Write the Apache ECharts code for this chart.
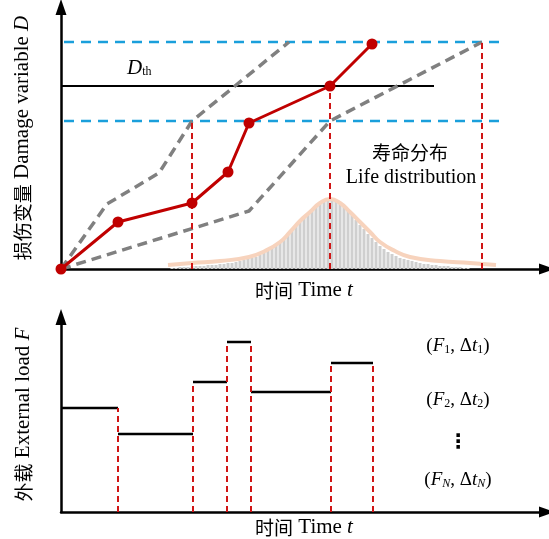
<!DOCTYPE html>
<html><head><meta charset="utf-8">
<script src="https://cdn.jsdelivr.net/npm/echarts@6/dist/echarts.min.js"></script>
<style>html,body{margin:0;padding:0;background:#fff}#c{width:549px;height:539px}</style>
</head><body><div id="c"></div>
<script>
// ---------- top panel: damage variable D vs time t ----------
const redPath    = [[0,0],[57,47],[131,66],[167,97],[188,146],[269,183],[311,225]];
const grayUpper  = [[0,0],[46,65],[98,96],[131,148],[228,227]];
const grayLower  = [[0,0],[188,58],[269,148],[421,227]];
const blueLevels = [227,148];
const blueRange  = [3,444];
const thresholdD = 183;
const thresholdRange = [0,373];
const topVerticalX = [131,269,421];
const topVerticalH = [148,183,227];
const lifeCurveX = [107,131,159,188,204,219,229,239,249,259,269,279,289,299,309,319,334,349,379,409,435];
const lifeCurveH = [4,6,8,12,18,27,37,48,57,66,70,66,57,47,37,27,18,12,8,6,4];
const histX = [111,115,119,123,127,131,135,139,143,147,151,155,159,163,167,171,175,179,183,187,191,195,199,203,207,211,215,219,223,227,231,235,239,243,247,251,255,259,263,267,271,275,279,283,287,291,295,299,303,307,311,315,319,323,327,331,335,339,343,347,351,355,359,363,367,371,375,379,383,387,391,395,399,403,407];
const histH = [1,1,2,2,2,3,3,3,3,4,4,4,5,5,6,6,7,8,9,10,11,12,14,16,18,21,24,27,31,35,39,43,47,51,55,59,62,65,67,68,68,67,65,62,58,54,49,44,40,35,31,27,23,20,17,15,13,11,10,9,8,7,6,5,5,4,4,3,3,3,2,2,2,1,1];

// ---------- bottom panel: external load F vs time t ----------
const loadStarts = [0,57,132,166,190,270];
const loadEnds   = [57,132,166,190,270,312];
const loadLevels = [104,78,130,170,120,149];
const loadEdgeX  = [57,132,166,190,270,312];
const loadEdgeH  = [104,130,170,170,149,149];

const serif = '"Liberation Serif","Times New Roman","Noto Sans CJK SC",serif';
const cjk = '"Noto Sans CJK SC",sans-serif';
const RED = '#c00000';

const chart = echarts.init(document.getElementById('c'));

function nameStyle(size){
  return {fontSize:size, color:'#000', fontFamily:serif,
    rich:{c:{fontFamily:cjk,fontSize:19,color:'#000'}, e:{fontFamily:serif,fontSize:size,color:'#000'}, i:{fontStyle:'italic',fontFamily:serif,fontSize:size,color:'#000'}}};
}
function axisX(gridIndex, name, gap){
  return {type:'value', gridIndex, min:0, max:486,
    axisLine:{show:true, onZero:false, symbol:['none','triangle'], symbolSize:[11,16], lineStyle:{color:'#000', width:2.5}},
    axisTick:{show:false}, axisLabel:{show:false}, splitLine:{show:false},
    name, nameLocation:'middle', nameGap:gap, nameTextStyle:nameStyle(21)
  };
}
function axisY(gridIndex, max, name, gap, size){
  return {type:'value', gridIndex, min:0, max,
    axisLine:{show:true, onZero:false, symbol:['none','triangle'], symbolSize:[11,16], lineStyle:{color:'#000', width:2.5}},
    axisTick:{show:false}, axisLabel:{show:false}, splitLine:{show:false},
    name, nameLocation:'middle', nameGap:gap, nameRotate:90, nameTextStyle:nameStyle(size)
  };
}

const series = [];
series.push({type:'bar', xAxisIndex:0, yAxisIndex:0, barWidth:3, silent:true, z:1,
  itemStyle:{color:'#cfcfcf'}, data: histX.map((x,i)=>[x,histH[i]])});
series.push({type:'line', xAxisIndex:0, yAxisIndex:0, smooth:0.5, symbol:'none', z:2,
  lineStyle:{color:'#f7d3bd', width:4}, data: lifeCurveX.map((x,i)=>[x,lifeCurveH[i]])});
blueLevels.forEach(v=>series.push({type:'line', xAxisIndex:0, yAxisIndex:0, symbol:'none', z:3,
  lineStyle:{color:'#1a9fdb', width:2.5, type:[10,7]}, data:[[blueRange[0],v],[blueRange[1],v]]}));
series.push({type:'line', xAxisIndex:0, yAxisIndex:0, symbol:'none', z:3,
  lineStyle:{color:'#000', width:2}, data:[[thresholdRange[0],thresholdD],[thresholdRange[1],thresholdD]]});
[grayUpper, grayLower].forEach(p=>series.push({type:'line', xAxisIndex:0, yAxisIndex:0, symbol:'none', z:4,
  lineStyle:{color:'#808080', width:3.5, type:[10,6]}, data:p}));
topVerticalX.forEach((x,i)=>series.push({type:'line', xAxisIndex:0, yAxisIndex:0, symbol:'none', z:5,
  lineStyle:{color:'#d01515', width:2, type:[6,4]}, data:[[x,0],[x,topVerticalH[i]]]}));
series.push({type:'line', xAxisIndex:0, yAxisIndex:0, symbol:'circle', symbolSize:11, z:6, clip:false,
  itemStyle:{color:RED}, lineStyle:{color:RED, width:3}, data:redPath});

loadStarts.forEach((s,i)=>series.push({type:'line', xAxisIndex:1, yAxisIndex:1, symbol:'none', z:4,
  lineStyle:{color:'#000', width:2.5}, data:[[s,loadLevels[i]],[loadEnds[i],loadLevels[i]]]}));
loadEdgeX.forEach((x,i)=>series.push({type:'line', xAxisIndex:1, yAxisIndex:1, symbol:'none', z:5,
  lineStyle:{color:'#d01515', width:2, type:[6,4]}, data:[[x,0],[x,loadEdgeH[i]]]}));

const subRich = {
  p:{fontFamily:serif, fontSize:19, color:'#000'},
  i:{fontFamily:serif, fontSize:19, fontStyle:'italic', color:'#000'},
  s:{fontFamily:serif, fontSize:12, color:'#000', padding:[8,0,0,0]},
  si:{fontFamily:serif, fontSize:12, fontStyle:'italic', color:'#000', padding:[8,0,0,0]}
};
function fLabel(y, sub, subStyle){
  return {type:'text', x:458, y, style:{text:'{p|(}{i|F}{'+subStyle+'|'+sub+'}{p|, Δ}{i|t}{'+subStyle+'|'+sub+'}{p|)}', rich:subRich, align:'center', verticalAlign:'middle'}};
}

chart.setOption({
  animation:false,
  grid:[{left:61, top:7, width:486, height:262, containLabel:false, outerBoundsMode:'none'},
        {left:61, top:317, width:486, height:195, containLabel:false, outerBoundsMode:'none'}],
  xAxis:[axisX(0,'{c|时间} Time {i|t}',11), axisX(1,'{c|时间} Time {i|t}',5)],
  yAxis:[axisY(0,262,'{c|损伤变量} Damage variable {i|D}',28,21), axisY(1,195,'{c|外载} External load {i|F}',27,21)],
  series,
  graphic:[
    {type:'text', x:127, y:68, style:{text:'{i|D}{s|th}', rich:{i:{fontFamily:serif,fontSize:21,fontStyle:'italic',color:'#000'}, s:{fontFamily:serif,fontSize:12,color:'#000',padding:[8,0,0,0]}}, verticalAlign:'middle'}},
    {type:'text', x:410, y:153, style:{text:'寿命分布', font:'19px "Noto Sans CJK SC"', fill:'#000', align:'center', verticalAlign:'middle'}},
    {type:'text', x:411, y:178, style:{text:'Life distribution', font:'20px "Liberation Serif"', fill:'#000', align:'center', verticalAlign:'middle'}},
    fLabel(346,'1','s'), fLabel(400,'2','s'),
    {type:'text', x:458, y:443, style:{text:'⋮', font:'bold 20px "DejaVu Sans"', fill:'#000', align:'center', verticalAlign:'middle'}},
    fLabel(480,'N','si')
  ]
});
</script></body></html>
